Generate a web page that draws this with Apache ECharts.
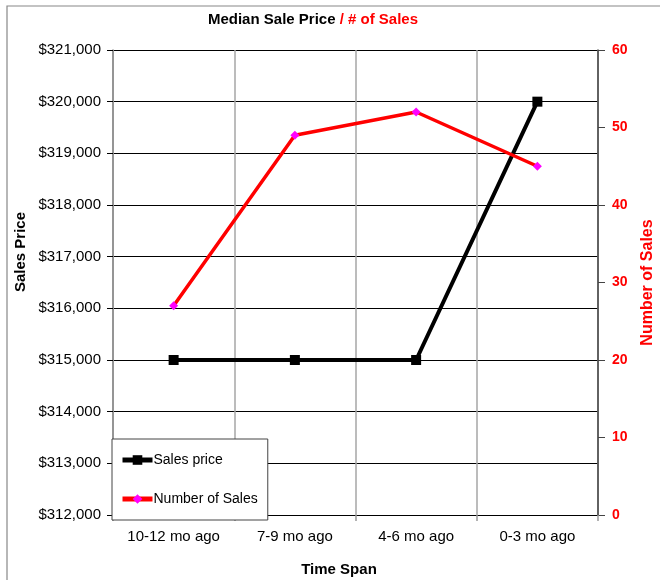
<!DOCTYPE html>
<html>
<head>
<meta charset="utf-8">
<script src="https://cdn.jsdelivr.net/npm/echarts@6/dist/echarts.min.js"></script>
<style>html,body{margin:0;padding:0;background:#fff;}#c{width:660px;height:580px;}</style>
</head>
<body>
<div id="c"></div>
<script>
const categories = ['10-12 mo ago', '7-9 mo ago', '4-6 mo ago', '0-3 mo ago'];
const salesPrice = [315000, 315000, 315000, 320000];
const numberOfSales = [27, 49, 52, 45];
const priceTicks = { min: 312000, max: 321000, interval: 1000 };
const countTicks = { min: 0, max: 60, interval: 10 };

const FONT = '"Liberation Sans", Arial, sans-serif';
const chart = echarts.init(document.getElementById('c'), null, { renderer: 'canvas' });
chart.setOption({
  animation: false,
  backgroundColor: '#fff',
  textStyle: { fontFamily: FONT },
  grid: { left: 113, right: 62, top: 50, bottom: 65, containLabel: false, outerBoundsMode: 'none' },
  graphic: [
    { type: 'rect', shape: { x: 7, y: 6, width: 700, height: 700 }, style: { fill: 'none', stroke: '#888', lineWidth: 1.2 }, z: -10 },
    { type: 'text', x: 313, y: 20, style: {
        text: '{a|Median Sale Price }{b|/ # of Sales}', align: 'center', verticalAlign: 'middle',
        rich: {
          a: { fontFamily: FONT, fontWeight: 'bold', fontSize: 15, fill: '#000' },
          b: { fontFamily: FONT, fontWeight: 'bold', fontSize: 15, fill: '#ff0000' }
        }
      } },
    { type: 'text', x: 339, y: 570, style: { text: 'Time Span', fontFamily: FONT, fontWeight: 'bold', fontSize: 15, fill: '#000', align: 'center', verticalAlign: 'middle' } },
    { type: 'text', x: 21, y: 252, rotation: Math.PI / 2, style: { text: 'Sales Price', fontFamily: FONT, fontWeight: 'bold', fontSize: 15, fill: '#000', align: 'center', verticalAlign: 'middle' } }
  ],
  legend: {
    orient: 'vertical', left: 112, top: 439,
    backgroundColor: '#fff', borderColor: '#444', borderWidth: 1,
    padding: [14, 10, 14, 8], itemGap: 25, itemWidth: 30, itemHeight: 12,
    lineStyle: { width: 5 },
    textStyle: { fontFamily: FONT, fontSize: 14, color: '#000', padding: [0, 0, 0, -4] },
    data: ['Sales price', 'Number of Sales']
  },
  xAxis: {
    type: 'category', data: categories, boundaryGap: true,
    axisLine: { lineStyle: { color: '#000', width: 1 } },
    axisTick: { show: true, length: 6, lineStyle: { color: '#999', width: 1.5 } },
    axisLabel: { fontFamily: FONT, fontSize: 15, color: '#000', margin: 14 },
    splitLine: { show: true, lineStyle: { color: '#a6a6a6', width: 1.5 } }
  },
  yAxis: [
    {
      type: 'value', position: 'left', min: priceTicks.min, max: priceTicks.max, interval: priceTicks.interval,
      axisLine: { show: true, lineStyle: { color: '#888', width: 1.5 } },
      axisTick: { show: true, length: 6, lineStyle: { color: '#000' } },
      axisLabel: { fontFamily: FONT, fontSize: 15, color: '#000', margin: 12, formatter: v => '$' + v.toLocaleString('en-US') },
      splitLine: { show: true, lineStyle: { color: '#000', width: 1 } }
    },
    {
      type: 'value', position: 'right', min: countTicks.min, max: countTicks.max, interval: countTicks.interval,
      name: 'Number of Sales', nameLocation: 'middle', nameGap: 42, nameRotate: 90,
      nameTextStyle: { fontFamily: FONT, fontWeight: 'bold', fontSize: 16, color: '#ff0000' },
      axisLine: { show: true, lineStyle: { color: '#444', width: 1.5 } },
      axisTick: { show: true, length: 7, lineStyle: { color: '#444' } },
      axisLabel: { fontFamily: FONT, fontSize: 14, fontWeight: 'bold', color: '#ff0000', margin: 14 },
      splitLine: { show: false }
    }
  ],
  series: [
    {
      name: 'Sales price', type: 'line', yAxisIndex: 0, data: salesPrice,
      symbol: 'rect', symbolSize: 10, showAllSymbol: true,
      lineStyle: { color: '#000', width: 4 }, itemStyle: { color: '#000' }, z: 3
    },
    {
      name: 'Number of Sales', type: 'line', yAxisIndex: 1, data: numberOfSales,
      symbol: 'diamond', symbolSize: 9, showAllSymbol: true,
      lineStyle: { color: '#ff0000', width: 3.5 }, itemStyle: { color: '#ff00ff' }, z: 4
    }
  ]
});
</script>
</body>
</html>
